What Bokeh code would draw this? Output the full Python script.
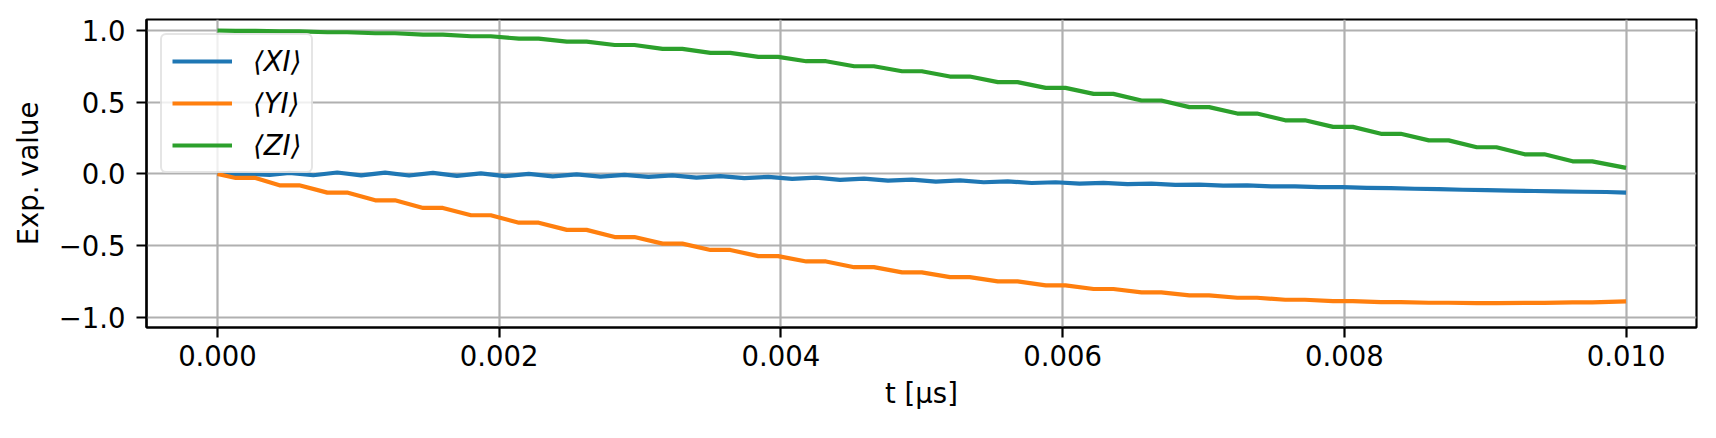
from bokeh.plotting import figure
from bokeh.models import Range1d, FixedTicker, CustomJSTickFormatter
from bokeh.embed import file_html
from bokeh.resources import INLINE

# ---- data ----
# time of the centre of each "plateau" of the ripple (in units of the x axis, t [us])
plateau_t = [0.00020, 0.00051, 0.00085, 0.00119, 0.00153, 0.00187, 0.00221, 0.00255,
             0.00289, 0.00323, 0.00357, 0.00391, 0.00425, 0.00459, 0.00493, 0.00527,
             0.00561, 0.00595, 0.00629, 0.00663, 0.00697, 0.00731, 0.00765, 0.00799,
             0.00833, 0.00867, 0.00901, 0.00935, 0.00969]
plateau_halfwidth = 0.00007
t_start = 0.0
t_end = 0.010

# <YI> plateau levels
yi_levels = [-0.028, -0.079, -0.130, -0.184, -0.237, -0.288, -0.340, -0.390,
             -0.440, -0.486, -0.530, -0.573, -0.610, -0.650, -0.686, -0.719,
             -0.749, -0.777, -0.802, -0.826, -0.847, -0.863, -0.877, -0.886,
             -0.893, -0.898, -0.900, -0.899, -0.895]
yi_start, yi_end = 0.0, -0.888

# <ZI> plateau levels
zi_levels = [0.997, 0.994, 0.988, 0.981, 0.972, 0.960, 0.943, 0.922,
             0.899, 0.872, 0.844, 0.816, 0.786, 0.751, 0.716, 0.679,
             0.640, 0.600, 0.558, 0.512, 0.466, 0.421, 0.374, 0.328,
             0.280, 0.234, 0.186, 0.137, 0.088]
zi_start, zi_end = 1.0, 0.042

# <XI>: small wiggle, crest at each plateau centre, trough half a ripple later
xi_trough_offset = 0.00017
xi_peaks = [0.001, 0.008, 0.010, 0.009, 0.007, 0.004, 0.001, -0.003,
            -0.006, -0.010, -0.015, -0.020, -0.025, -0.032, -0.039, -0.045,
            -0.052, -0.058, -0.062, -0.068, -0.074, -0.080, -0.086, -0.092,
            -0.099, -0.106, -0.113, -0.119, -0.124]
xi_troughs = [-0.007, -0.009, -0.010, -0.011, -0.013, -0.015, -0.017, -0.019,
              -0.021, -0.025, -0.029, -0.034, -0.041, -0.047, -0.053, -0.058,
              -0.063, -0.068, -0.071, -0.076, -0.081, -0.087, -0.092, -0.097,
              -0.103, -0.110, -0.116, -0.121, -0.126]
xi_start, xi_end = 0.0, -0.130

x_ticks = [0.0, 0.002, 0.004, 0.006, 0.008, 0.010]
y_ticks = [-1.0, -0.5, 0.0, 0.5, 1.0]
labels = ["⟨XI⟩", "⟨YI⟩", "⟨ZI⟩"]
colors = ["#1f77b4", "#ff7f0e", "#2ca02c"]


def stairs(levels, v0, v1):
    xs, ys = [t_start], [v0]
    for t, v in zip(plateau_t, levels):
        xs += [t - plateau_halfwidth, t + plateau_halfwidth]
        ys += [v, v]
    xs.append(t_end)
    ys.append(v1)
    return xs, ys


def wiggle():
    xs, ys = [t_start], [xi_start]
    for t, pk, tr in zip(plateau_t, xi_peaks, xi_troughs):
        xs += [t, t + xi_trough_offset]
        ys += [pk, tr]
    xs.append(t_end)
    ys.append(xi_end)
    return xs, ys


FONT = "DejaVu Sans"
FS = "27.5px"

p = figure(width=1700, height=422, output_backend="svg", toolbar_location=None,
           x_range=Range1d(-0.000504, 0.0105), y_range=Range1d(-1.0705, 1.0768),
           min_border_left=146, min_border_right=4, min_border_top=19,
           min_border_bottom=95)
p.background_fill_color = "white"
p.border_fill_color = "white"
p.outline_line_color = "black"
p.outline_line_width = 2.2

xs_x, ys_x = wiggle()
xs_y, ys_y = stairs(yi_levels, yi_start, yi_end)
xs_z, ys_z = stairs(zi_levels, zi_start, zi_end)
for (xs, ys), lab, c in zip([(xs_x, ys_x), (xs_y, ys_y), (xs_z, ys_z)], labels, colors):
    p.line(xs, ys, line_color=c, line_width=4.2, legend_label=lab, line_join="round")

p.xaxis.ticker = FixedTicker(ticks=x_ticks)
p.yaxis.ticker = FixedTicker(ticks=y_ticks)
p.xaxis.formatter = CustomJSTickFormatter(code="return tick.toFixed(3);")
p.yaxis.formatter = CustomJSTickFormatter(
    code="return (tick < 0 ? '\u2212' : '') + Math.abs(tick).toFixed(1);")

p.xaxis.axis_label = "t [μs]"
p.yaxis.axis_label = "Exp. value"
for ax in (p.xaxis, p.yaxis):
    ax.axis_label_text_font = FONT
    ax.axis_label_text_font_size = FS
    ax.axis_label_text_font_style = "normal"
    ax.axis_label_text_color = "black"
    ax.major_label_text_font = FONT
    ax.major_label_text_font_size = FS
    ax.major_label_text_color = "black"
    ax.axis_line_color = "black"
    ax.axis_line_width = 2.2
    ax.major_tick_line_color = "black"
    ax.major_tick_line_width = 2.2
    ax.major_tick_out = 10
    ax.major_tick_in = 0
    ax.minor_tick_line_color = None
p.xaxis.major_label_standoff = 7
p.yaxis.major_label_standoff = 11
p.xaxis.axis_label_standoff = 8
p.yaxis.axis_label_standoff = 12

p.grid.grid_line_color = "#b0b0b0"
p.grid.grid_line_width = 2.2

leg = p.legend[0]
leg.location = "top_left"
leg.margin = 14
leg.padding = 10
leg.spacing = 10
leg.glyph_width = 60
leg.glyph_height = 32
leg.label_height = 32
leg.label_standoff = 21
leg.label_text_font = FONT
leg.label_text_font_size = FS
leg.label_text_font_style = "italic"
leg.label_text_color = "black"
leg.border_line_color = "#cccccc"
leg.border_line_width = 2.5
leg.background_fill_alpha = 0.8
if "border_radius" in leg.properties():
    leg.border_radius = 6

open("out.html", "w").write(file_html(p, INLINE))
